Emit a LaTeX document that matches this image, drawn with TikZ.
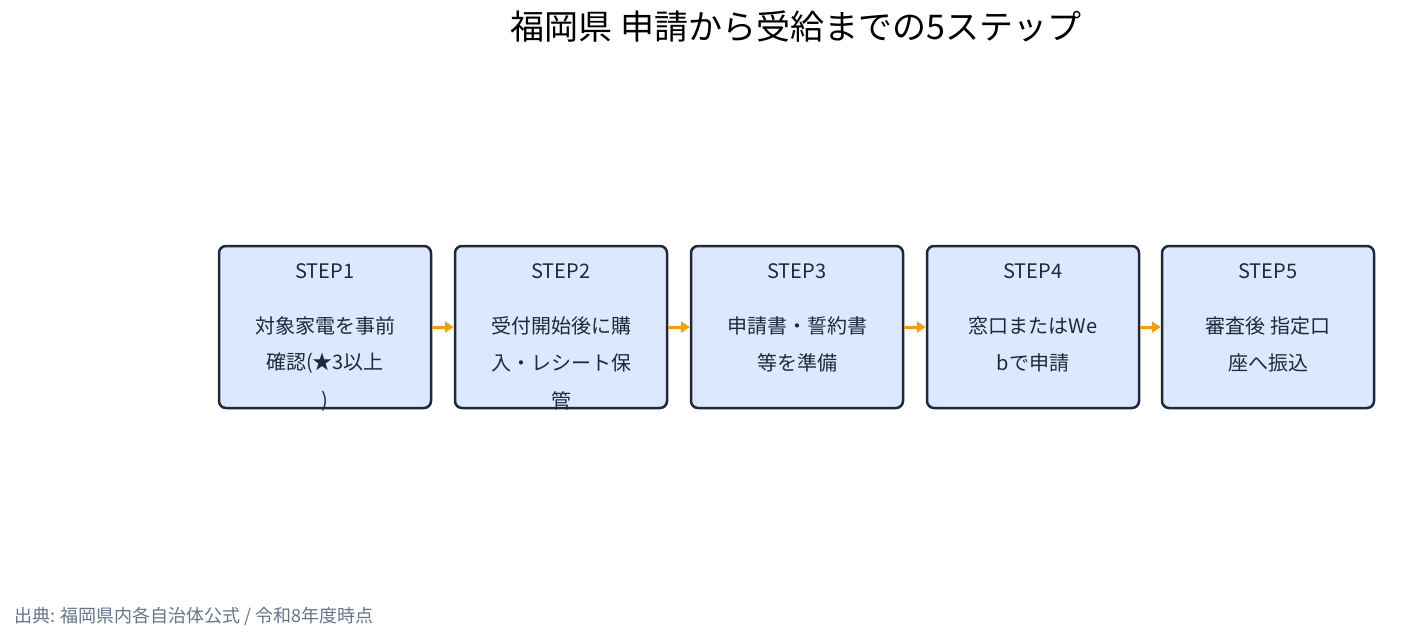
\documentclass[tikz,border=0pt]{standalone}
\usepackage{fontspec}
\setmainfont{Noto Sans CJK JP}
\usetikzlibrary{arrows.meta}
\definecolor{boxfill}{HTML}{DBE8FE}
\definecolor{boxline}{HTML}{1E293B}
\definecolor{arr}{HTML}{F59E0B}
\definecolor{foot}{HTML}{64748B}
\begin{document}
\begin{tikzpicture}[x=1pt,y=-1pt,
  box/.style={draw=boxline,line width=2.5pt,fill=boxfill,rounded corners=7pt,minimum width=212pt,minimum height=162pt,inner sep=0pt},
  lbl/.style={text=boxline,font=\fontsize{20}{20}\selectfont,inner sep=0pt,anchor=center},
  conn/.style={draw=arr,line width=3pt,-{Triangle[length=9pt,width=11pt]}}]
\useasboundingbox (0,0) rectangle (1414,642);
\node[font=\fontsize{34}{34}\selectfont,text=black] (title) at (796,27) {福岡県 申請から受給までの5ステップ};
\foreach \i/\x/\a/\b/\c in {1/325/対象家電を事前/確認(★3以上/),2/561/受付開始後に購/入・レシート保/管,3/797/申請書・誓約書/等を準備/,4/1033/窓口またはWe/bで申請/,5/1268/審査後 指定口/座へ振込/}{
  \node[box] (b\i) at (\x,327) {};
  \node[lbl] (s\i) at (\x,271) {STEP\i};
  \node[lbl] (t\i) at (\x,326) {\a};
  \node[lbl] (u\i) at (\x,363) {\b};
  \node[lbl] (v\i) at (\x,401) {\c};
}
\foreach \i/\j in {1/2,2/3,3/4,4/5}{\draw[conn] (b\i.east) -- (b\j.west);}
\node[anchor=west,text=foot,font=\fontsize{18}{18}\selectfont,inner sep=0pt] (src) at (14,616) {出典: 福岡県内各自治体公式 / 令和8年度時点};
\end{tikzpicture}
\end{document}
